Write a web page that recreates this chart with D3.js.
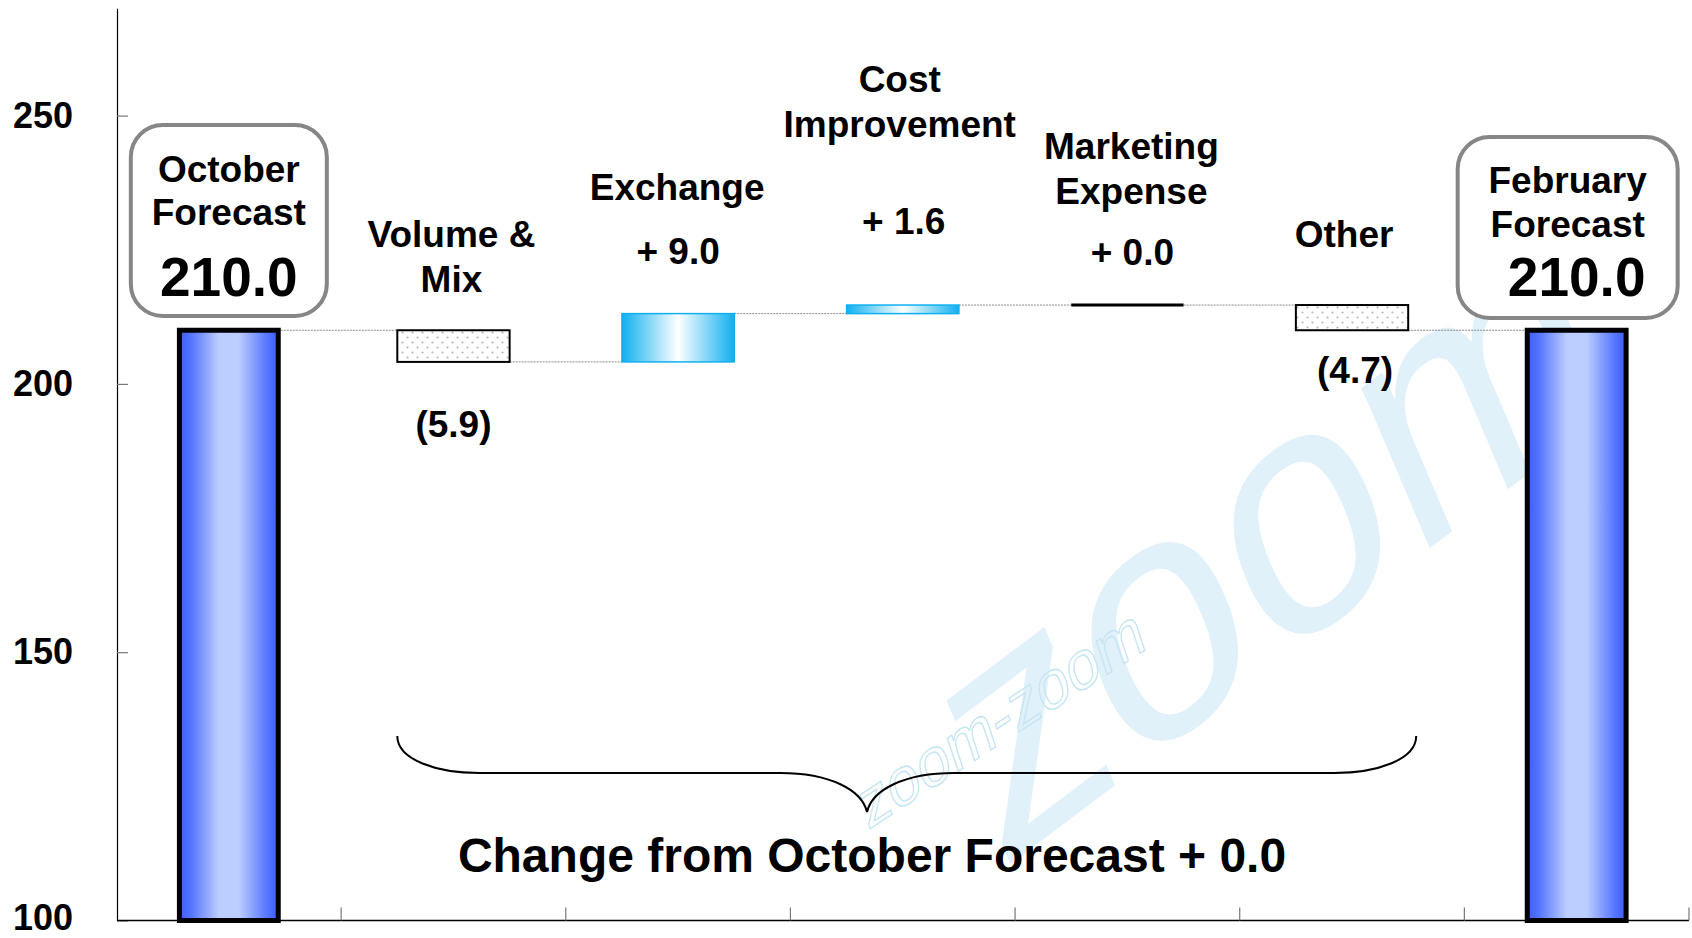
<!DOCTYPE html>
<html>
<head>
<meta charset="utf-8">
<script src="https://cdnjs.cloudflare.com/ajax/libs/d3/7.8.5/d3.min.js"></script>
<style>
  html, body { margin: 0; padding: 0; background: #fff; }
  svg { display: block; font-family: "Liberation Sans", Arial, sans-serif; }
  .lbl { font-weight: bold; fill: #000; text-anchor: middle; }
</style>
</head>
<body>
<div id="chart"></div>
<script>
// data
var categories = ['October Forecast', 'Volume & Mix', 'Exchange', 'Cost Improvement',
                  'Marketing Expense', 'Other', 'February Forecast'];
var startValue = 210.0;
var deltas = [null, -5.9, 9.0, 1.6, 0.0, -4.7, null];
var valueLabels = ['210.0', '(5.9)', '+ 9.0', '+ 1.6', '+ 0.0', '(4.7)', '210.0'];
var nameLines = [['October', 'Forecast'], ['Volume &', 'Mix'], ['Exchange'], ['Cost', 'Improvement'],
                 ['Marketing', 'Expense'], ['Other'], ['February', 'Forecast']];
var yTicks = [100, 150, 200, 250];
var summaryText = 'Change from October Forecast + 0.0';

var width = 1692, height = 938;

var svg = d3.select('#chart').append('svg')
    .attr('width', width)
    .attr('height', height);

var x = d3.scaleBand().domain(categories).range([116.5, 1689]).padding(0);
var y = d3.scaleLinear().domain([100, 270]).range([920.5, 8.3]);
var bw = x.bandwidth();

// running totals
var rows = [];
var run = startValue;
categories.forEach(function(c, i) {
    if (deltas[i] === null) {
        rows.push({name: c, i: i, total: true, lo: 100, hi: run, value: run});
    } else {
        var from = run;
        run = Math.round((run + deltas[i]) * 10) / 10;
        rows.push({name: c, i: i, total: false, lo: Math.min(from, run), hi: Math.max(from, run),
                   from: from, to: run, value: deltas[i]});
    }
});

var defs = svg.append('defs');

var g1 = defs.append('linearGradient').attr('id', 'totalGrad');
[[0, '#3a5cff'], [0.12, '#5575ff'], [0.4, '#bccdff'], [0.6, '#bccdff'], [0.88, '#5878ff'], [1, '#3a5cff']]
    .forEach(function(s) { g1.append('stop').attr('offset', s[0]).attr('stop-color', s[1]); });

var g2 = defs.append('linearGradient').attr('id', 'upGrad');
[[0, '#10b0f0'], [0.5, '#ffffff'], [1, '#10b0f0']]
    .forEach(function(s) { g2.append('stop').attr('offset', s[0]).attr('stop-color', s[1]); });

var pat = defs.append('pattern').attr('id', 'dots')
    .attr('patternUnits', 'userSpaceOnUse').attr('width', 10).attr('height', 10);
pat.append('rect').attr('width', 10).attr('height', 10).attr('fill', '#fff');
pat.append('circle').attr('cx', 2.5).attr('cy', 2.5).attr('r', 1.1).attr('fill', '#b8b8b8');
pat.append('circle').attr('cx', 7.5).attr('cy', 7.5).attr('r', 1.1).attr('fill', '#b8b8b8');

// faint logo watermark behind the chart
var wm = svg.append('g');
wm.append('text')
    .attr('transform', 'translate(1000,872) rotate(-37) skewX(-14)')
    .attr('fill', '#e0f1f9')
    .style('font-size', '320px')
    .text('zoom');
wm.append('text')
    .attr('transform', 'translate(868,830) rotate(-33) skewX(-15)')
    .attr('fill', 'none')
    .attr('stroke', '#c6e5f3')
    .attr('stroke-width', 1.4)
    .style('font-size', '64px')
    .text('zoom-zoom');

// y axis
var yAxis = d3.axisLeft(y)
    .tickValues(yTicks)
    .tickSizeInner(-11)
    .tickSizeOuter(0)
    .tickPadding(44)
    .tickFormat(d3.format('d'));

var ya = svg.append('g')
    .attr('transform', 'translate(117,0)')
    .call(yAxis);
ya.select('.domain').attr('stroke', '#000').attr('stroke-width', 1.2);
ya.selectAll('.tick line').attr('stroke', '#777').attr('stroke-width', 1.2);
ya.selectAll('.tick text')
    .attr('fill', '#000')
    .attr('dy', function(d) { return d === 100 ? '0.24em' : '0.32em'; })
    .style('font-size', '36px')
    .style('font-weight', 'bold')
    .style('font-family', '"Liberation Sans", Arial, sans-serif');

// x axis baseline and ticks between categories
svg.append('line')
    .attr('x1', 117).attr('x2', x.range()[1])
    .attr('y1', y(100)).attr('y2', y(100))
    .attr('stroke', '#000').attr('stroke-width', 1.5);
svg.selectAll('.xtick')
    .data(categories.slice(1).concat(['end']))
    .enter().append('line')
    .attr('class', 'xtick')
    .attr('x1', function(d, i) { return x.range()[0] + bw * (i + 1); })
    .attr('x2', function(d, i) { return x.range()[0] + bw * (i + 1); })
    .attr('y1', y(100)).attr('y2', y(100) - 13)
    .attr('stroke', '#777').attr('stroke-width', 1.2);

function barW(d) { return d.total ? bw * 0.44 : bw * 0.5; }
function barX(d) { return x(d.name) + bw / 2 - barW(d) / 2; }

// connectors
var links = rows.slice(0, -1).map(function(d, i) {
    var nxt = rows[i + 1];
    var level = d.total ? d.hi : d.to;
    var x1 = barX(d) + barW(d) + (d.total ? 2.5 : 0);
    var x2 = barX(nxt) - (nxt.total ? 2.5 : 0);
    return {x1: x1, x2: x2, v: level};
});
svg.selectAll('.link').data(links).enter().append('line')
    .attr('class', 'link')
    .attr('x1', function(d) { return d.x1; })
    .attr('x2', function(d) { return d.x2; })
    .attr('y1', function(d) { return y(d.v); })
    .attr('y2', function(d) { return y(d.v); })
    .attr('stroke', '#8a8a8a').attr('stroke-width', 1)
    .attr('stroke-dasharray', '2,1');

// bars
svg.selectAll('.bar')
    .data(rows.filter(function(d) { return d.total || d.value !== 0; }))
    .enter().append('rect')
    .attr('class', 'bar')
    .attr('x', barX)
    .attr('width', barW)
    .attr('y', function(d) { return y(d.hi); })
    .attr('height', function(d) { return y(d.lo) - y(d.hi); })
    .attr('fill', function(d) {
        if (d.total) return 'url(#totalGrad)';
        return d.value > 0 ? 'url(#upGrad)' : 'url(#dots)';
    })
    .attr('stroke', function(d) {
        if (d.total) return '#000';
        return d.value > 0 ? '#10b0f0' : '#000';
    })
    .attr('stroke-width', function(d) { return d.total ? 5 : (d.value > 0 ? 1.5 : 2); });

// zero change shown as a thick line
svg.selectAll('.zero')
    .data(rows.filter(function(d) { return !d.total && d.value === 0; }))
    .enter().append('line')
    .attr('x1', barX)
    .attr('x2', function(d) { return barX(d) + barW(d); })
    .attr('y1', function(d) { return y(d.hi); })
    .attr('y2', function(d) { return y(d.hi); })
    .attr('stroke', '#000').attr('stroke-width', 3);

// callout boxes over the totals
var boxLayout = [
    {i: 0, w: 196, top: 125, bottom: 316, dx: 0, lines: [182, 225], num: 296, numDx: 0},
    {i: 6, w: 220, top: 137, bottom: 318, dx: -9, lines: [193, 237], num: 296, numDx: 0}
];
boxLayout.forEach(function(b) {
    var cx = x(categories[b.i]) + bw / 2;
    svg.append('rect')
        .attr('x', cx + b.dx - b.w / 2).attr('y', b.top)
        .attr('width', b.w).attr('height', b.bottom - b.top)
        .attr('rx', 32).attr('ry', 32)
        .attr('fill', '#fff').attr('stroke', '#868686').attr('stroke-width', 4);
    nameLines[b.i].forEach(function(t, k) {
        svg.append('text').attr('class', 'lbl')
            .attr('x', cx + b.dx).attr('y', b.lines[k])
            .style('font-size', '37px').text(t);
    });
    svg.append('text').attr('class', 'lbl')
        .attr('x', cx + b.numDx).attr('y', b.num)
        .style('font-size', '55px').text(valueLabels[b.i]);
});

// labels for the change steps (baselines in px, offsets from band centre)
var stepLayout = [
    {i: 1, dx: -2, lines: [247, 292], val: 437, valDx: 0},
    {i: 2, dx: -1, lines: [200], val: 264, valDx: 0},
    {i: 3, dx: -3, lines: [92, 137], val: 234, valDx: 1},
    {i: 4, dx: 4, lines: [159, 204], val: 265, valDx: 5},
    {i: 5, dx: -8, lines: [247], val: 383, valDx: 3}
];
stepLayout.forEach(function(s) {
    var cx = x(categories[s.i]) + bw / 2;
    nameLines[s.i].forEach(function(t, k) {
        svg.append('text').attr('class', 'lbl')
            .attr('x', cx + s.dx).attr('y', s.lines[k])
            .style('font-size', '37px').text(t);
    });
    svg.append('text').attr('class', 'lbl')
        .attr('x', cx + s.valDx).attr('y', s.val)
        .style('font-size', '37px').text(valueLabels[s.i]);
});

// brace under the change steps
var bl = barX(rows[1]), br = barX(rows[5]) + barW(rows[5]) + 8;
var tip = 867, by = 773, btop = 736, btip = 812;
svg.append('path')
    .attr('d', 'M' + bl + ',' + btop +
        ' C' + bl + ',' + (btop + 24) + ' ' + (bl + 40) + ',' + by + ' ' + (bl + 82) + ',' + by +
        ' L' + (tip - 87) + ',' + by +
        ' C' + (tip - 37) + ',' + by + ' ' + (tip - 5) + ',' + (by + 17) + ' ' + tip + ',' + btip +
        ' C' + (tip + 5) + ',' + (by + 17) + ' ' + (tip + 37) + ',' + by + ' ' + (tip + 87) + ',' + by +
        ' L' + (br - 82) + ',' + by +
        ' C' + (br - 40) + ',' + by + ' ' + br + ',' + (btop + 24) + ' ' + br + ',' + btop)
    .attr('fill', 'none').attr('stroke', '#000').attr('stroke-width', 2);

svg.append('text').attr('class', 'lbl')
    .attr('x', 872).attr('y', 872)
    .style('font-size', '48px')
    .text(summaryText);
</script>
</body>
</html>
